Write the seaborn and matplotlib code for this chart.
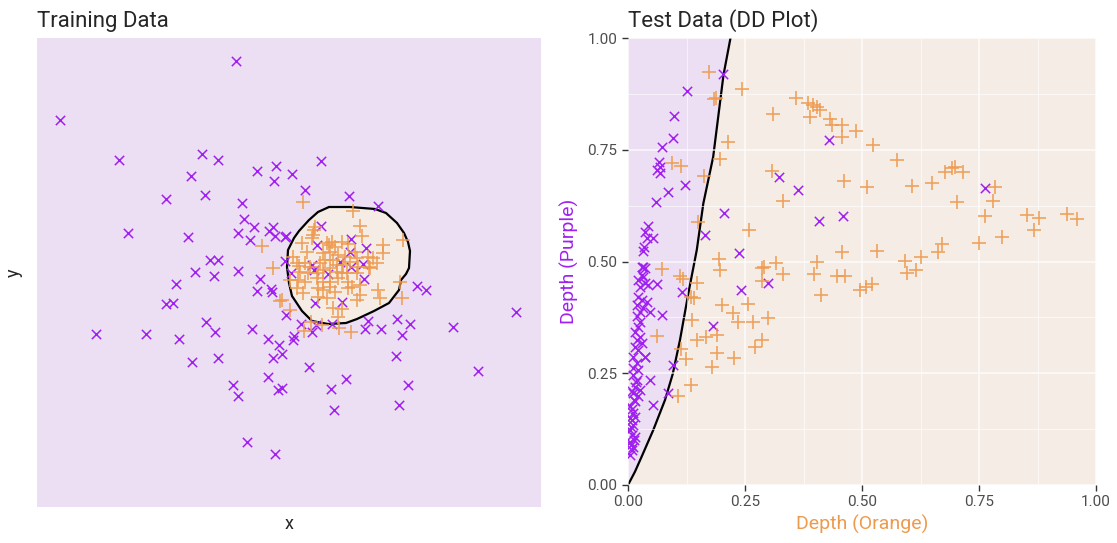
import matplotlib.pyplot as plt
import numpy as np
import pandas as pd
import seaborn as sns

# Training data (arbitrary units, the panel has no ticks)
train_purple_x = [-5.3, -22.9, -17.0, -8.7, -7.1, -9.8, -3.2, -1.3, -1.5, -12.3, -8.4, -4.7, -4.5, -3.5,
                  -5.1, -2.0, -1.6, -1.4, -0.4, -3.9, -16.1, -10.1, -7.9, -7.1, -9.4, -5.1, -0.4, -11.3,
                  -7.5, -2.9, -3.2, -1.8, -1.7, -12.3, -11.6, -8.3, -7.4, -3.7, -19.3, -14.3, -11.0, -2.1,
                  -1.0, -0.7, -1.6, -9.7, -7.1, -2.1, -5.6, -5.1, -1.1, -0.7, -4.2, -1.4, -0.3, 7.5, 12.8,
                  13.7, 22.7, 2.6, 5.3, 7.9, 7.6, 9.2, 10.8, 12.1, 11.3, 16.4, 1.2, 2.3, 4.3, 0.5, 0.4, 2.7,
                  10.7, 18.9, 2.0, 5.7, 4.2, 11.9, 4.5, 11.0, 3.2, 0.3, 1.6, 6.0, 8.9, 3.2, 6.2, 7.7, 2.8,
                  6.1, 6.2, 7.4, 2.3, -0.3, 0.2, 2.5, 5.1, 3.9]
train_purple_y = [21.1, 15.2, 11.2, 11.8, 11.2, 9.6, 10.1, 10.6, 9.1, 7.3, 7.7, 6.9, 5.3, 4.5,
                  3.9, 4.1, 4.5, 3.6, 3.5, 3.2, 3.9, 3.5, 1.2, 1.2, 0.0, 0.1, 1.1, -1.2,
                  -0.4, -0.7, -1.9, -1.7, -2.0, -3.2, -3.1, -5.0, -6.0, -5.7, -6.2, -6.2, -6.7, -6.7,
                  -7.3, -8.2, -8.6, -9.0, -8.6, -10.5, -11.3, -12.4, -11.8, -11.6, -17.0, -18.2, -4.3, -0.7, -1.4,
                  -1.8, -4.0, -3.1, -3.0, -4.9, -5.7, -5.7, -4.7, -5.2, -6.3, -5.5, -5.2, -6.0, -5.2, -6.4, -6.8, -5.3,
                  -8.4, -9.9, -9.5, -10.7, -11.7, -11.3, -13.8, -13.3, 11.1, 9.8, 8.2, 7.6, 6.6, 4.6, 3.3, 2.4, 2.7,
                  2.0, 0.5, 0.8, 0.7, 3.6, -0.1, 0.2, 1.0, -0.2]

train_orange_x = [2.6, 2.4, 7.1, 7.3, 9.4, 9.4, 11.4, 1.3, 1.8, 3.8, 4.3, 4.6, 5.3, 5.9, 6.6, 3.4, 4.1,
                  4.9, 5.6, 6.8, 7.9, 8.4, 8.8, 0.4, 0.8, 1.6, 2.1, 3.1, 3.6, 4.4, 4.8, 5.4, 6.1, 6.9,
                  1.1, 1.9, 2.9, 3.4, 4.1, 4.8, 5.3, 5.8, 6.8, 8.1, 0.1, 0.9, 1.6, 2.8, 3.4, 4.1, 4.9,
                  5.9, 6.3, 7.1, 0.8, 1.4, 2.9, 3.4, 4.1, 4.6, 5.9, 7.1, 8.9, 9.1, 11.1, 11.3, 2.9, 3.8,
                  6.8, 4.4, 5.3, 0.1, -0.7, 4.9, 6.2, 5.0, 3.3, 2.2, 1.5, -2.7, -1.6, 1.4, 6.4, 2.5, 2.3,
                  4.0, 8.0, 1.0, -0.9]
train_orange_y = [4.5, 3.7, 4.6, 3.6, 2.7, 1.9, 3.2, 2.9, 2.0, 2.9, 3.0, 2.5, 3.0, 2.8, 2.0, 1.9, 2.0,
                  1.7, 1.5, 1.4, 1.5, 1.4, 0.9, 1.5, 0.9, 0.9, 0.5, 0.9, 1.2, 1.2, 0.7, 0.7, 1.0, 0.5,
                  0.0, -0.1, -0.1, 0.2, 0.4, 0.0, -0.1, -0.1, -0.1, 0.4, -0.8, -0.8, -1.0, -0.6, -1.0, -1.0, -0.6,
                  -1.0, -1.5, -1.3, -1.6, -2.1, -1.6, -1.8, -1.5, -2.0, -1.6, -2.3, -1.8, -2.6, -1.0, -2.6, -2.5, -2.6,
                  -2.8, -3.6, -3.7, -3.8, -2.8, -4.5, -6.0, -5.6, -5.3, -5.0, -5.9, 2.6, 0.4, 7.0, 6.1, 4.2, 3.4,
                  2.7, 0.5, 0.6, -2.9]

# Decision region (orange class) on the training data
region_x = [4.0, 6.1, 8.6, 9.7, 10.8, 11.5, 11.9, 12.1, 12.0, 11.7, 11.2, 11.0, 10.0, 8.5, 6.8, 5.7,
            3.9, 2.3, 1.3, 0.3, 0.0, -0.2, -0.1, 0.5, 1.0, 2.0, 2.9]
region_y = [6.5, 6.5, 6.3, 5.9, 4.9, 3.9, 3.0, 2.1, 0.4, -0.2, -0.8, -1.8, -3.1, -3.9, -4.7, -5.1,
            -5.2, -4.9, -3.9, -2.4, -1.1, 0.5, 2.2, 3.4, 4.1, 5.2, 6.0]

# Test data depths (DD plot)
dd_purple_x = [0.204, 0.125, 0.099, 0.097, 0.073, 0.066, 0.068, 0.062, 0.068, 0.122, 0.085, 0.059, 0.205,
               0.165, 0.043, 0.036, 0.041, 0.053, 0.034, 0.032, 0.238, 0.030, 0.036, 0.032, 0.061, 0.115,
               0.072, 0.181, 0.300, 0.241, 0.097, 0.086, 0.053, 0.047, 0.036, 0.430, 0.323, 0.363, 0.460,
               0.409, 0.763,
               0.033, 0.029, 0.022, 0.036, 0.026, 0.043, 0.022, 0.029, 0.040, 0.019, 0.033, 0.026, 0.047,
               0.019, 0.026, 0.022, 0.015, 0.026, 0.019, 0.029, 0.015, 0.022, 0.036, 0.011, 0.019, 0.011,
               0.022, 0.011, 0.019, 0.015, 0.026, 0.011, 0.022, 0.015, 0.004, 0.011, 0.015, 0.008, 0.011,
               0.004, 0.008, 0.015, 0.004, 0.011, 0.008, 0.004, 0.006, 0.009, 0.012, 0.005, 0.013, 0.007,
               0.017, 0.009]
dd_purple_y = [0.919, 0.882, 0.826, 0.776, 0.756, 0.723, 0.711, 0.705, 0.698, 0.671, 0.655, 0.632, 0.608,
               0.559, 0.579, 0.566, 0.553, 0.553, 0.532, 0.523, 0.518, 0.488, 0.485, 0.465, 0.449, 0.432,
               0.380, 0.356, 0.453, 0.436, 0.268, 0.205, 0.179, 0.235, 0.287, 0.772, 0.690, 0.659, 0.602,
               0.591, 0.664,
               0.488, 0.470, 0.459, 0.451, 0.444, 0.447, 0.421, 0.414, 0.410, 0.402, 0.395, 0.388, 0.388,
               0.377, 0.365, 0.354, 0.343, 0.332, 0.324, 0.317, 0.309, 0.302, 0.287, 0.287, 0.272, 0.261,
               0.257, 0.246, 0.235, 0.220, 0.213, 0.205, 0.198, 0.187, 0.176, 0.161, 0.153, 0.146, 0.135,
               0.123, 0.112, 0.108, 0.097, 0.086, 0.078, 0.067, 0.130, 0.170, 0.100, 0.150, 0.190, 0.090,
               0.230, 0.210]

dd_orange_x = [0.174, 0.184, 0.188, 0.244, 0.309, 0.214, 0.197, 0.162, 0.095, 0.113, 0.149, 0.259, 0.307,
               0.195, 0.197, 0.072, 0.111, 0.117, 0.147, 0.134, 0.141, 0.200, 0.286, 0.316, 0.286, 0.225,
               0.236, 0.257, 0.268, 0.299, 0.136, 0.061, 0.113, 0.124, 0.148, 0.167, 0.191, 0.190, 0.226,
               0.271, 0.286, 0.179, 0.106, 0.134, 0.360, 0.385, 0.396, 0.403, 0.410, 0.389, 0.432, 0.435,
               0.457, 0.487, 0.457, 0.524, 0.574, 0.677, 0.692, 0.699, 0.715, 0.649, 0.606, 0.510, 0.462,
               0.331, 0.784, 0.779, 0.704, 0.763, 0.852, 0.879, 0.937, 0.960, 0.868, 0.799, 0.749, 0.672,
               0.662, 0.626, 0.592, 0.615, 0.596, 0.533, 0.458, 0.403, 0.291, 0.332, 0.398, 0.447, 0.464,
               0.496, 0.509, 0.521, 0.412]
dd_orange_y = [0.925, 0.864, 0.865, 0.885, 0.830, 0.767, 0.729, 0.692, 0.721, 0.714, 0.588, 0.570, 0.702,
               0.505, 0.481, 0.483, 0.468, 0.460, 0.453, 0.421, 0.419, 0.403, 0.485, 0.496, 0.457, 0.385,
               0.365, 0.405, 0.365, 0.374, 0.369, 0.333, 0.304, 0.281, 0.324, 0.330, 0.336, 0.296, 0.283,
               0.309, 0.324, 0.263, 0.200, 0.224, 0.865, 0.854, 0.850, 0.846, 0.840, 0.823, 0.818, 0.805,
               0.805, 0.793, 0.778, 0.761, 0.726, 0.701, 0.709, 0.711, 0.701, 0.676, 0.669, 0.666, 0.681,
               0.636, 0.666, 0.636, 0.634, 0.602, 0.604, 0.598, 0.606, 0.595, 0.570, 0.555, 0.541, 0.539,
               0.521, 0.509, 0.502, 0.481, 0.474, 0.524, 0.522, 0.500, 0.487, 0.471, 0.472, 0.468, 0.468,
               0.436, 0.442, 0.449, 0.425]

# DD classifier separating curve
curve_x = [0, 0.015, 0.029, 0.054, 0.079, 0.0955, 0.111, 0.129, 0.147, 0.161, 0.182, 0.204, 0.219]
curve_y = [0, 0.030, 0.063, 0.123, 0.190, 0.248, 0.324, 0.429, 0.526, 0.630, 0.734, 0.917, 1.0]

purple = '#A020F0'
orange = '#EE9A4D'
lavender = '#EDDFF3'
beige = '#F5ECE6'

sns.set_style('white')
plt.rcParams['font.family'] = ['Roboto', 'DejaVu Sans']

fig = plt.figure(figsize=(11.17, 5.43), dpi=100)
ax1 = fig.add_axes([37 / 1117, 1 - 507 / 543, 504 / 1117, 469 / 543])
ax2 = fig.add_axes([628 / 1117, 1 - 485 / 543, 468 / 1117, 447 / 543])

# ---- left panel
train_p = pd.DataFrame({'x': train_purple_x, 'y': train_purple_y})
train_o = pd.DataFrame({'x': train_orange_x, 'y': train_orange_y})
ax1.set_facecolor(lavender)
ax1.fill(region_x, region_y, facecolor=beige, edgecolor='black', linewidth=1.6, zorder=1)
sns.scatterplot(data=train_p, x='x', y='y', ax=ax1, marker='x', color=purple, s=45,
                linewidth=1.1, zorder=3)
sns.scatterplot(data=train_o, x='x', y='y', ax=ax1, marker='+', color=orange, s=110,
                linewidth=1.2, alpha=0.9, zorder=3)
ax1.set_xlim(-25.2, 25.2)
ax1.set_ylim(-23.5, 23.4)
ax1.set_xticks([])
ax1.set_yticks([])
for s in ax1.spines.values():
    s.set_visible(False)
ax1.set_xlabel('x', fontsize=13, labelpad=6)
ax1.set_ylabel('y', fontsize=13, labelpad=10)
ax1.set_title('Training Data', loc='left', fontsize=16, pad=8)

# ---- right panel
test_p = pd.DataFrame({'x': dd_purple_x, 'y': dd_purple_y})
test_o = pd.DataFrame({'x': dd_orange_x, 'y': dd_orange_y})
ax2.set_facecolor(beige)
ax2.fill_betweenx(curve_y, 0, curve_x, color=lavender, zorder=0, linewidth=0)
ax2.set_xticks([0, 0.25, 0.5, 0.75, 1.0])
ax2.set_yticks([0, 0.25, 0.5, 0.75, 1.0])
ax2.set_xticks([0.125, 0.375, 0.625, 0.875], minor=True)
ax2.set_yticks([0.125, 0.375, 0.625, 0.875], minor=True)
ax2.grid(True, which='major', color='white', linewidth=1.2, alpha=0.7, zorder=1)
ax2.grid(True, which='minor', color='white', linewidth=0.6, alpha=0.7, zorder=1)
ax2.set_axisbelow(False)
ax2.plot(curve_x, curve_y, color='black', linewidth=1.6, zorder=2)
sns.scatterplot(data=test_p, x='x', y='y', ax=ax2, marker='x', color=purple, s=45,
                linewidth=1.1, zorder=3)
sns.scatterplot(data=test_o, x='x', y='y', ax=ax2, marker='+', color=orange, s=110,
                linewidth=1.2, alpha=0.9, zorder=3)
ax2.set_xlim(0, 1)
ax2.set_ylim(0, 1)
ax2.set_xticklabels(['0.00', '0.25', '0.50', '0.75', '1.00'])
ax2.set_yticklabels(['0.00', '0.25', '0.50', '0.75', '1.00'])
ax2.tick_params(which='major', length=4, width=1, color='#333333', labelcolor='#4D4D4D',
                labelsize=11, direction='out', bottom=True, left=True)
ax2.tick_params(which='minor', length=0)
for s in ax2.spines.values():
    s.set_visible(False)
ax2.set_xlabel('Depth (Orange)', fontsize=14, color=orange, labelpad=4)
ax2.set_ylabel('Depth (Purple)', fontsize=14, color=purple, labelpad=6)
ax2.set_title('Test Data (DD Plot)', loc='left', fontsize=16, pad=8)

fig.savefig('out.png', dpi=100)
